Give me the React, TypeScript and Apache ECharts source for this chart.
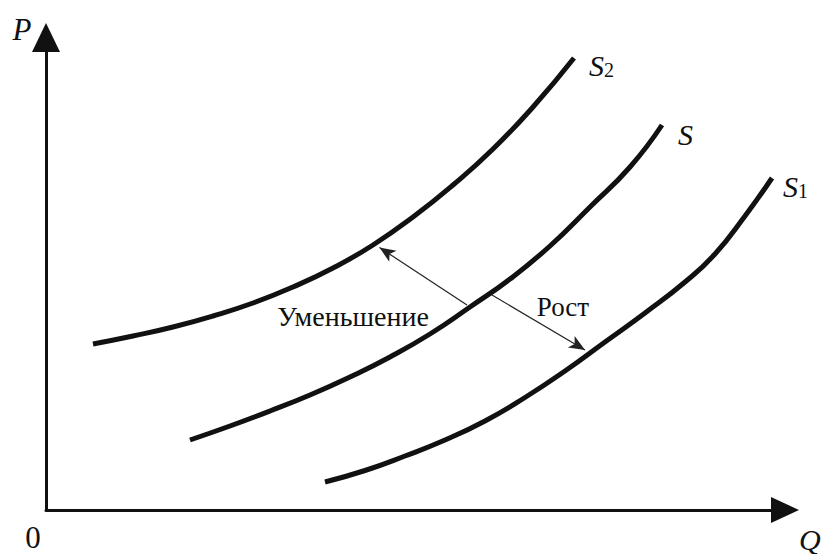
import React, { useEffect, useRef } from "react";
import * as echarts from "echarts";

// Quantity (Q) and price (P) readings for each supply curve
const s2Q = [9.4, 17.4, 25.4, 33.4, 41.4, 49.4, 57.4, 65.4, 73.4, 81.4, 89.4, 97.4, 105.6];
const s2P = [33.2, 34.8, 36.6, 38.8, 41.4, 44.6, 48.4, 53, 58.6, 65, 72.2, 80.6, 90.4];

const sQ = [28.8, 36.8, 44.8, 52.8, 60.8, 68.8, 76.8, 84.8, 92.8, 100.8, 108.8, 116.8, 123.2];
const sP = [14, 16.8, 19.8, 23, 26.6, 30.6, 35.2, 40.6, 46.2, 52.8, 60.6, 68.6, 77];

const s1Q = [55.8, 63.8, 71.8, 79.8, 87.8, 95.8, 103.8, 111.8, 119.8, 127.8, 133.8, 139.8, 145.2];
const s1P = [5.6, 7.9, 10.8, 14, 17.8, 22.5, 27.8, 33.6, 39.4, 45.6, 51.2, 58.8, 66.4];

// Shift arrows: [from, to] in (Q, P)
const decreaseFrom = [84.2, 41];
const decreaseTo = [66.7, 52.5];
const increaseFrom = [89.2, 43];
const increaseTo = [107.8, 32];

const curveNames = ["S2", "S", "S1"];
const curveLabels = ["{s|S}{sub|2}", "{s|S}", "{s|S}{sub|1}"];
const shiftLabels = ["Уменьшение", "Рост"];
const axisNames = ["P", "Q", "0"];

const X_MAX = 148;
const Y_MAX = 95;

const SERIF = "'Liberation Serif', 'Times New Roman', serif";
const INK = "#111";

function zip(a: number[], b: number[]) {
  return a.map((v, i) => [v, b[i]]);
}

export default function App() {
  const ref = useRef<HTMLDivElement>(null);

  useEffect(() => {
    if (!ref.current) return;
    const chart = echarts.init(ref.current, null, { renderer: "svg" });

    const rich = {
      s: { fontFamily: SERIF, fontStyle: "italic", fontSize: 30, lineHeight: 30, color: INK },
      sub: { fontFamily: SERIF, fontSize: 20, lineHeight: 17, verticalAlign: "bottom", color: INK },
    };

    const curveData = [zip(s2Q, s2P), zip(sQ, sP), zip(s1Q, s1P)];
    const labelOffsets = [
      [7, 7],
      [8, 9.5],
      [3, 8],
    ];

    const curveSeries = curveData.map((d, i) => ({
      type: "line",
      name: curveNames[i],
      data: d,
      showSymbol: false,
      smooth: 0.5,
      lineStyle: { color: INK, width: 5 },
      endLabel: {
        show: true,
        formatter: curveLabels[i],
        offset: labelOffsets[i],
        rich,
      },
      silent: true,
    }));

    const textStyle = (txt: string, size: number, italic: boolean, align: string) => ({
      text: txt,
      fontFamily: SERIF,
      fontSize: size,
      fontStyle: italic ? "italic" : "normal",
      fill: INK,
      align,
      verticalAlign: "middle",
    });

    const option: any = {
      animation: false,
      grid: { left: 46, right: 35, top: 35, bottom: 44, containLabel: false },
      xAxis: {
        type: "value",
        min: 0,
        max: X_MAX,
        axisLine: {
          show: true,
          symbol: ["none", "triangle"],
          symbolSize: [26, 28],
          symbolOffset: [0, -1],
          lineStyle: { color: INK, width: 3 },
        },
        axisTick: { show: false },
        axisLabel: { show: false },
        splitLine: { show: false },
      },
      yAxis: {
        type: "value",
        min: 0,
        max: Y_MAX,
        axisLine: {
          show: true,
          symbol: ["none", "triangle"],
          symbolSize: [28, 29],
          symbolOffset: [0, -2.5],
          lineStyle: { color: INK, width: 3 },
        },
        axisTick: { show: false },
        axisLabel: { show: false },
        splitLine: { show: false },
      },
      series: [
        ...curveSeries,
        {
          type: "lines",
          coordinateSystem: "cartesian2d",
          polyline: false,
          symbol: ["none", "arrow"],
          symbolSize: [
            [10, 16],
            [10, 16],
          ],
          lineStyle: { color: "#222", width: 1.2, opacity: 1, curveness: 0 },
          data: [
            { coords: [decreaseFrom, decreaseTo] },
            { coords: [increaseFrom, increaseTo] },
          ],
          z: 1,
          silent: true,
        },
      ],
      graphic: [
        { type: "text", x: 22, y: 29, style: textStyle(axisNames[0], 31, true, "center") },
        { type: "text", x: 799, y: 539, style: textStyle(axisNames[1], 30, true, "left") },
        { type: "text", x: 33, y: 537, style: textStyle(axisNames[2], 31, false, "center") },
        { type: "text", x: 353, y: 316, style: textStyle(shiftLabels[0], 28, false, "center") },
        { type: "text", x: 563, y: 307, style: textStyle(shiftLabels[1], 27, false, "center") },
      ],
    };

    chart.setOption(option);
    return () => chart.dispose();
  }, []);

  return (
    <div
      ref={ref}
      style={{ position: "fixed", left: 0, top: 0, width: 821, height: 554, background: "#fff" }}
    />
  );
}
